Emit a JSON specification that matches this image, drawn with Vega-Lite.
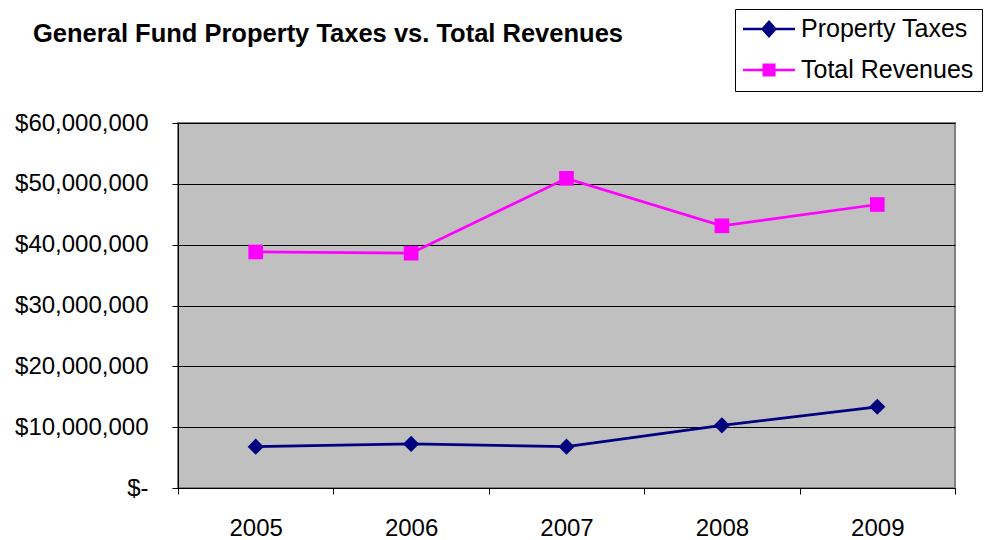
{
  "$schema": "https://vega.github.io/schema/vega-lite/v6.json",
  "width": 777,
  "height": 365,
  "autosize": "none",
  "padding": {"left": 178, "top": 123, "right": 29, "bottom": 52},
  "background": "white",
  "config": {
    "font": "Liberation Sans",
    "view": {"fill": "#C0C0C0", "stroke": "#808080", "strokeWidth": 2}
  },
  "title": {
    "text": "General Fund Property Taxes vs. Total Revenues",
    "anchor": "start",
    "frame": "group",
    "dx": -145,
    "offset": -59,
    "baseline": "alphabetic",
    "fontSize": 25.5,
    "font": "Liberation Sans",
    "fontWeight": "bold",
    "color": "black"
  },
  "data": {
    "values": [
      {"year": "2005", "series": "Property Taxes", "value": 6800000},
      {"year": "2006", "series": "Property Taxes", "value": 7250000},
      {"year": "2007", "series": "Property Taxes", "value": 6800000},
      {"year": "2008", "series": "Property Taxes", "value": 10300000},
      {"year": "2009", "series": "Property Taxes", "value": 13350000},
      {"year": "2005", "series": "Total Revenues", "value": 38800000},
      {"year": "2006", "series": "Total Revenues", "value": 38600000},
      {"year": "2007", "series": "Total Revenues", "value": 50900000},
      {"year": "2008", "series": "Total Revenues", "value": 43100000},
      {"year": "2009", "series": "Total Revenues", "value": 46600000}
    ]
  },
  "encoding": {
    "x": {
      "field": "year",
      "type": "ordinal",
      "scale": {"paddingInner": 0, "paddingOuter": 0},
      "axis": {
        "title": null,
        "labelAngle": 0,
        "labelFontSize": 24,
        "labelColor": "black",
        "labelFont": "Liberation Sans",
        "labelPadding": 22,
        "tickBand": "extent",
        "tickSize": 6,
        "tickColor": "black",
        "domainColor": "black",
        "grid": false
      }
    },
    "y": {
      "field": "value",
      "type": "quantitative",
      "scale": {"domain": [0, 60000000], "nice": false},
      "axis": {
        "title": null,
        "values": [0, 10000000, 20000000, 30000000, 40000000, 50000000, 60000000],
        "labelExpr": "datum.value == 0 ? '$-' : format(datum.value, '$,.0f')",
        "labelFontSize": 24,
        "labelColor": "black",
        "labelFont": "Liberation Sans",
        "labelPadding": 24,
        "tickSize": 6,
        "tickColor": "black",
        "domainColor": "black",
        "grid": true,
        "gridColor": "black",
        "gridOpacity": 1
      }
    },
    "color": {
      "field": "series",
      "type": "nominal",
      "scale": {"domain": ["Property Taxes", "Total Revenues"], "range": ["#000080", "#FF00FF"]},
      "legend": null
    }
  },
  "layer": [
    {
      "mark": {"type": "line", "strokeWidth": 2.7},
      "encoding": {
        "color": {
          "field": "series",
          "type": "nominal",
          "legend": {
            "title": null,
            "orient": "none",
            "legendX": 557,
            "legendY": -114,
            "strokeColor": "black",
            "fillColor": "white",
            "padding": 8,
            "labelFontSize": 25,
            "labelLimit": 400,
            "labelColor": "black",
            "labelFont": "Liberation Sans",
            "symbolSize": 2704,
            "clipHeight": 24,
            "labelOffset": 6,
            "rowPadding": 16,
            "encode": {
              "symbols": {
                "update": {
                  "shape": {"signal": "datum.value === 'Property Taxes' ? 'M-1,-0.048H-0.267L0,-0.35L0.267,-0.048H1V0.048H0.267L0,0.35L-0.267,0.048H-1Z' : 'M-1,-0.048H-0.25V-0.25H0.25V-0.048H1V0.048H0.25V0.25H-0.25V0.048H-1Z'"},
                  "fill": {"signal": "scale('color', datum.value)"},
                  "fillOpacity": {"value": 1},
                  "strokeWidth": {"value": 0},
                  "size": {"value": 2704},
                  "opacity": {"value": 1}
                }
              }
            }
          }
        }
      }
    },
    {
      "transform": [{"filter": "datum.series === 'Property Taxes'"}],
      "mark": {"type": "point", "filled": true, "opacity": 1, "size": 260, "shape": "diamond"}
    },
    {
      "transform": [{"filter": "datum.series === 'Total Revenues'"}],
      "mark": {"type": "point", "filled": true, "opacity": 1, "size": 215, "shape": "square"}
    }
  ]
}
